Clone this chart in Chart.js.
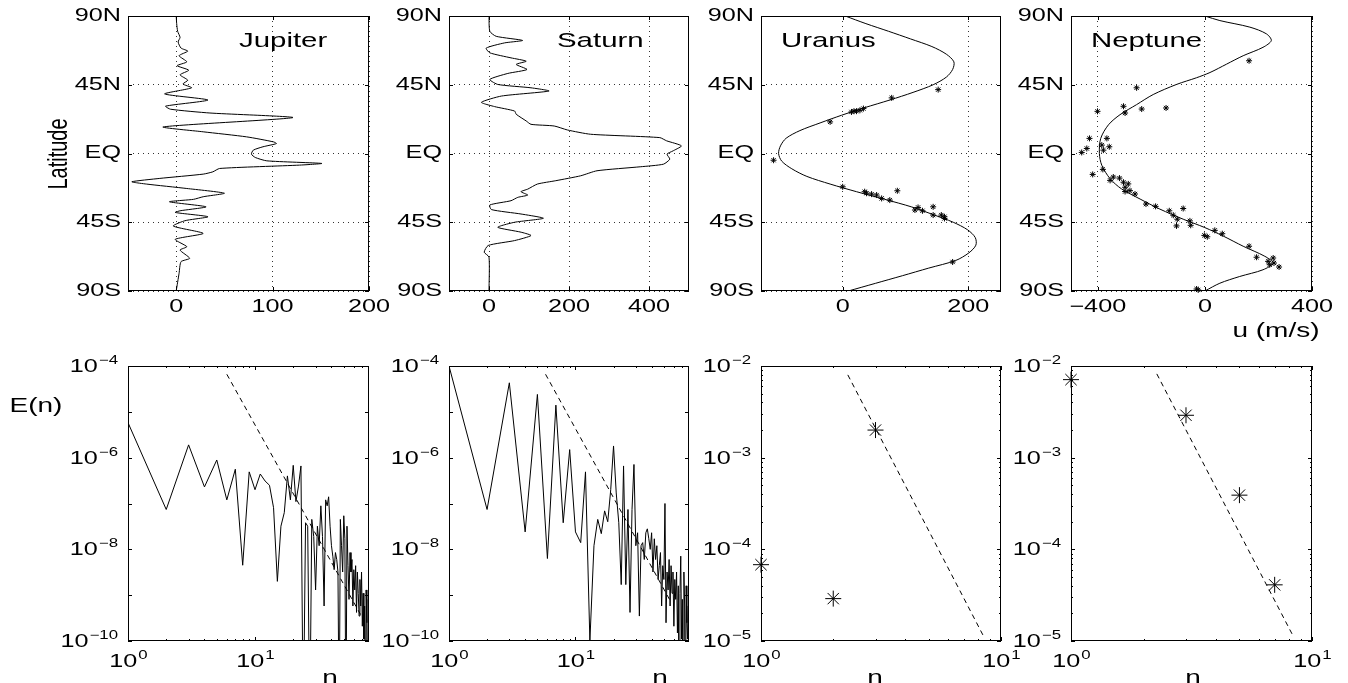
<!DOCTYPE html>
<html lang="en">
<head>
<meta charset="UTF-8">
<title>Zonal winds and energy spectra of the giant planets</title>
<script src="https://cdn.jsdelivr.net/npm/chart.js@4"></script>
<style>
    body { margin: 0; background: #fff; }
    #fig { position: relative; width: 1348px; height: 683px; }
    #fig canvas { position: absolute; left: 0; top: 0; }
</style>
</head>
<body>
<div id="fig">
    <canvas id="c0" width="1348" height="683"></canvas>
    <canvas id="c1" width="1348" height="683"></canvas>
    <canvas id="c2" width="1348" height="683"></canvas>
    <canvas id="c3" width="1348" height="683"></canvas>
    <canvas id="c4" width="1348" height="683"></canvas>
    <canvas id="c5" width="1348" height="683"></canvas>
    <canvas id="c6" width="1348" height="683"></canvas>
    <canvas id="c7" width="1348" height="683"></canvas>
</div>
<script>
// ---- wind profiles: latitude (deg) and zonal wind u (m/s) ----
const jupiterLat = [90, 85, 80, 76, 73, 69, 67, 64, 60, 57.5, 54.5, 51.5, 48, 45.5, 43, 39, 35, 31, 29, 26.5, 23.5, 17.4, 14.2, 10.9, 7.6, 6.5, 4.4, 2.2, -0.4, -2.6, -4.8, -6.5, -7.6, -9.8, -12, -13.5, -16.3, -18.5, -20, -22.9, -26, -28.3, -30, -31.6, -34.9, -37.5, -38.6, -41.4, -44, -47.5, -52.3, -56.2, -61, -63.2, -68.6, -70.8, -78.4, -90];
const jupiterU   = [0, 0.5, 1.5, 4, 2, 5, 12, 3, 11, 1, 13, 4, 12, 7, 16, -12, 33, -11, -6, 35, 121, -13.5, 28, 73, 101, 104, 90, 80, 78, 82, 94, 151, 128, 45, 38, 28, -17, -46, -31, 11, 50, 28, 18, -7, 31, 4, -1, 33, 9, -3, 28, -1, 11, 4, 14, 5, 3, 0];

const saturnLat = [90, 80, 76.7, 74, 72.4, 69, 65.9, 62.6, 60.4, 58.3, 55, 52.4, 48.5, 45.2, 43, 40.9, 37.6, 33.5, 30.7, 27.8, 25.7, 21.3, 19.1, 18, 15.4, 12.6, 10.4, 8.3, 5, 1.7, -0.4, -3.7, -7, -8.7, -11.3, -14.6, -17.8, -20, -23.3, -25, -27.2, -28.7, -30.9, -33.7, -36.7, -39.6, -42.4, -45, -48.3, -51.5, -53.7, -57, -60.2, -64.6, -67.8, -90];
const saturnU   = [0, 2, 18, 84, 39, -7, 2, 55, 93, 68, 95, 47, 2, 22, 105, 150, 31, -19, 14, 64, 68, 93, 105, 163, 196, 254, 427, 444, 481, 460, 445, 452, 436, 378, 270, 229, 167, 121, 97, 80, 97, 72, 55, 2, 6, 80, 136, 64, 22, 80, 105, 64, -2, -12, 0, 0];

const uranusLat = [90, 85, 80, 75, 70, 65, 60, 55, 50, 45, 40, 35, 30, 25, 20, 15, 10, 5, 0, -5, -10, -15, -20, -25, -30, -35, -40, -45, -50, -55, -60, -65, -70, -75, -80, -85, -90];
const uranusU   = [4, 37, 73, 108, 142, 165, 177, 175, 165, 144, 112, 75, 35, -2, -36, -68, -90, -99, -102, -97, -81, -57, -20, 22, 67, 110, 144, 176, 199, 211, 212, 201, 180, 137, 95, 52, 9];
const uranusObsLat = [41.8, 36.4, 29.4, 28.3, 27.7, 27.7, 27.2, 20.7, -4.4, -21.8, -25, -26, -26.6, -27.2, -29.4, -30.5, -24.4, -37, -35.3, -37.5, -34.9, -40.3, -40.3, -41.4, -42.5, -71];
const uranusObsU   = [152, 78, 33, 27.5, 22, 18, 14, -20, -110, 0, 35, 38, 46, 54, 62, 75, 87, 115, 120, 127, 144, 144, 157, 162, 162, 175];

const neptuneLat = [90, 87, 82.7, 78.3, 73.9, 69.5, 64, 58.5, 53, 49.6, 45.2, 38.6, 32, 25.4, 18.8, 9.9, 0, -7.7, -16.5, -23.2, -29.8, -36.4, -43, -48.5, -54, -60.7, -67.3, -71.7, -76.1, -80.5, -84.9, -90];
const neptuneU   = [0, 56, 168, 230, 248, 217, 143, 81, 19, -31, -106, -193, -255, -317, -360, -389, -394, -385, -354, -311, -242, -168, -81, 0, 68, 143, 224, 255, 217, 130, 56, 0];
const neptuneObsLat = [60.7, 43, 30.9, 26.5, 29.1, 29.8, 27.6, 9.9, 9.9, 5.5, 4.4, 3.3, 2.2, 0.7, -10.4, -13.7, -15.4, -16.1, -17.6, -18.8, -19.9, -22.1, -24.3, -26.5, -24.9, -33.1, -34.6, -37.5, -36, -40.4, -43, -47.4, -44.1, -47, -53.6, -54.5, -50.3, -52.5, -60.7, -67.9, -70.6, -68.4, -71.7, -72.8, -74.3, -88.7, -89.3];
const neptuneObsU   = [165, -255, -304, -298, -236, -145, -401, -431, -366, -385, -357, -441, -379, -460, -381, -419, -342, -319, -354, -304, -286, -298, -280, -261, -298, -220, -184, -133, -81, -118, -103, -106, -56, -53, -2, 9, 37, 65, 165, 193, 236, 255, 258, 242, 277, -31, -25];

// ---- energy spectra E(n) ----
const jupiterN = [1, 2, 3, 4, 5, 6, 7, 8, 9, 10, 11, 12, 13, 14, 15, 16, 17, 18, 19, 20, 21, 22, 23, 24, 25, 26, 27, 28, 29, 30, 31, 32, 33, 34, 35, 36, 37, 38, 39, 40, 41, 42, 43, 44, 45, 46, 47, 48, 49, 50, 51, 52, 53, 54, 55, 56, 57, 58, 59, 60, 61, 62, 63, 64, 65, 66, 67, 68, 69, 70, 71, 72, 73, 74, 75, 76, 77, 78, 79];
const jupiterE = [5.8e-6, 7.4e-8, 1.9e-6, 2.3e-7, 8.9e-7, 1.2e-7, 5.6e-7, 4.5e-9, 4.9e-7, 2.0e-7, 4.4e-7, 3.1e-7, 2.5e-7, 8.1e-8, 2.0e-9, 3.2e-8, 6.3e-8, 4.0e-7, 1.2e-7, 6.8e-7, 1.1e-7, 2.4e-7, 6.6e-7, 1e-12, 3.8e-8, 3.2e-8, 1e-12, 4.5e-8, 1.9e-8, 1.3e-9, 3.2e-8, 1.2e-8, 8.9e-8, 1.9e-8, 5.8e-10, 1.2e-7, 8.9e-8, 1.4e-7, 3.2e-8, 1.2e-8, 7.1e-9, 3.6e-9, 8.5e-9, 6.0e-9, 3.2e-9, 1e-12, 4.5e-8, 1.2e-8, 3.2e-9, 5.4e-8, 1.7e-8, 1e-12, 3.2e-8, 4.4e-9, 8.1e-10, 8.5e-9, 3.2e-9, 6.0e-9, 5.8e-10, 3.6e-9, 1.3e-9, 4.4e-9, 4.2e-10, 3.2e-9, 1.1e-9, 3.5e-10, 2.2e-9, 5.8e-10, 3.2e-9, 2.1e-10, 1.1e-9, 1.1e-10, 5.8e-10, 1e-12, 1.3e-9, 2.5e-10, 1e-12, 8.1e-10, 1.1e-10];
const jupiterFitN = [6, 71];
const jupiterFitE = [6.6e-5, 3e-10];

const saturnN = jupiterN;
const saturnE = [1e-4, 7.4e-8, 4.3e-5, 2.4e-8, 2.4e-5, 6.3e-9, 1.4e-5, 3.8e-8, 1.5e-6, 2.4e-8, 1.4e-8, 4.9e-7, 1e-10, 1.2e-8, 4.5e-8, 2.2e-8, 6.9e-8, 4e-8, 2e-7, 1.8e-6, 1.7e-7, 3.8e-8, 1.7e-9, 6.6e-7, 1.7e-9, 7.4e-8, 4.2e-10, 7.4e-8, 7.1e-7, 1.2e-8, 2.3e-8, 3.5e-10, 1.2e-8, 1.4e-8, 6e-9, 2.3e-8, 2.8e-8, 1.7e-8, 1e-8, 2.3e-8, 3.2e-9, 1.7e-8, 6e-9, 1.2e-8, 2.2e-9, 4.4e-9, 8.5e-9, 5.8e-10, 4.4e-9, 2.2e-9, 1e-7, 2.5e-10, 3.2e-9, 1.3e-9, 6e-9, 5.8e-10, 4.4e-9, 1.1e-9, 3.2e-9, 2.1e-10, 2.2e-9, 8.1e-10, 3.2e-9, 1.5e-10, 1.6e-9, 1e-12, 1.1e-9, 7.1e-9, 1.1e-10, 8.1e-10, 1e-12, 3.2e-9, 5.8e-10, 1e-12, 1.6e-9, 2.5e-10, 1.1e-10, 5.8e-10, 1e-12];
const saturnFitN = [5.8, 57];
const saturnFitE = [6.6e-5, 7e-10];

const uranusN = [1, 2, 3];
const uranusE = [6.8e-5, 2.9e-5, 2.0e-3];
const uranusFitN = [2.3, 8.5];
const uranusFitE = [8e-3, 1.1e-5];

const neptuneN = [1, 3, 5, 7];
const neptuneE = [7.1e-3, 2.9e-3, 3.9e-4, 4.1e-5];
const neptuneFitN = [2.27, 8.4];
const neptuneFitE = [8.2e-3, 1.1e-5];

// ---- ticks ----
const latTicks = [-90, -45, 0, 45, 90];
const latTickLabels = ['90S', '45S', 'EQ', '45N', '90N'];
const jupiterUTicks = [0, 100, 200];
const saturnUTicks = [0, 200, 400];
const uranusUTicks = [0, 200];
const neptuneUTicks = [-400, 0, 400];
const specLabelExpGiant = [-4, -6, -8, -10];
const specLabelExpIce = [-2, -3, -4, -5];
const nLabelExp = [0, 1];

const W = 1348, H = 683;
const SX = 1.4; // the original figure is horizontally stretched
const FONT = '"Liberation Sans", Arial, Helvetica, sans-serif';
const topRow = [16, 291], botRow = [366, 641];
const cols = [[128, 369], [449, 689], [761, 1001], [1071, 1312]];

function txt(ctx, s, x, y, size, align, base, rot) {
    ctx.save();
    ctx.font = size + 'px ' + FONT;
    ctx.textAlign = align;
    ctx.textBaseline = base;
    ctx.translate(x, y);
    if (rot) { ctx.rotate(-Math.PI / 2); ctx.scale(1, SX); }
    else ctx.scale(SX, 1);
    ctx.fillText(s, 0, 0);
    ctx.restore();
}

function powLabel(ctx, e, x, y, align) {
    const es = e < 0 ? '\u2212' + (-e) : String(e);
    ctx.font = '18px ' + FONT;
    const w1 = ctx.measureText('10').width * SX;
    ctx.font = '12px ' + FONT;
    const w2 = ctx.measureText(es).width * SX;
    const x0 = align === 'right' ? x - w1 - w2 : x - (w1 + w2) / 2;
    txt(ctx, '10', x0, y, 18, 'left', 'middle');
    txt(ctx, es, x0 + w1 + 1, y - 3, 12, 'left', 'alphabetic');
}

// 2..9 times each decade between lo and hi
function minorTicks(lo, hi) {
    const out = [];
    for (let d = lo; d < hi * 0.999; d *= 10) {
        for (let k = 2; k <= 9; k++) if (d * k < hi) out.push(d * k);
    }
    return out;
}

const matlabAxes = {
    id: 'matlabAxes',
    afterDraw(chart, args, o) {
        const ctx = chart.ctx, a = chart.chartArea;
        const xs = chart.scales.x, ys = chart.scales.y;
        ctx.save();
        ctx.strokeStyle = '#000';
        ctx.fillStyle = '#000';
        ctx.lineWidth = 1;

        // inward tick marks on all four sides
        ctx.beginPath();
        const marks = (vals, len, dir) => vals.forEach(v => {
            if (dir === 'x') {
                const p = Math.round(xs.getPixelForValue(v)) + 0.5;
                ctx.moveTo(p, a.bottom); ctx.lineTo(p, a.bottom - len);
                ctx.moveTo(p, a.top); ctx.lineTo(p, a.top + len);
            } else {
                const p = Math.round(ys.getPixelForValue(v)) + 0.5;
                ctx.moveTo(a.left, p); ctx.lineTo(a.left + len, p);
                ctx.moveTo(a.right, p); ctx.lineTo(a.right - len, p);
            }
        });
        marks(o.xMajor || [], 4, 'x');
        marks(o.xMinor || [], 2, 'x');
        marks(o.yMajor || [], 4, 'y');
        marks(o.yMinor || [], 2, 'y');
        ctx.stroke();

        ctx.strokeRect(a.left + 0.5, a.top + 0.5, a.right - a.left - 1, a.bottom - a.top - 1);

        if (o.kind === 'lat') {
            latTicks.forEach((v, i) => txt(ctx, latTickLabels[i], a.left - 7, ys.getPixelForValue(v), 18, 'right', 'middle'));
            o.xLabels.forEach(v => txt(ctx, v < 0 ? '\u2212' + (-v) : String(v), xs.getPixelForValue(v), a.bottom + 16, 18, 'center', 'middle'));
        } else {
            o.yExp.forEach(e => powLabel(ctx, e, a.left - 11, ys.getPixelForValue(Math.pow(10, e)) + 1, 'right'));
            nLabelExp.forEach(e => powLabel(ctx, e, xs.getPixelForValue(Math.pow(10, e)), a.bottom + 21, 'center'));
        }
        (o.texts || []).forEach(t => txt(ctx, t.s, t.x, t.y, t.size, t.align, 'alphabetic', t.rot));
        ctx.restore();
    }
};

function axis(c, dir) {
    return {
        type: c.log ? 'logarithmic' : 'linear',
        min: c.min,
        max: c.max,
        ticks: { display: false },
        border: { display: false, dash: [1, 4] },
        grid: { display: !!c.grid, color: '#333', lineWidth: 1, drawTicks: false },
        afterBuildTicks: s => { if (c.ticks) s.ticks = c.ticks.map(v => ({ value: v })); },
        afterFit: s => { if (dir === 'x') s.height = 0; else s.width = 0; }
    };
}

function panel(id, col, row, xCfg, yCfg, datasets, deco) {
    return new Chart(document.getElementById(id), {
        type: 'scatter',
        data: { datasets: datasets },
        options: {
            responsive: false,
            animation: false,
            events: [],
            layout: { padding: { left: col[0], right: W - col[1], top: row[0], bottom: H - row[1] } },
            scales: { x: axis(xCfg, 'x'), y: axis(yCfg, 'y') },
            plugins: { legend: { display: false }, tooltip: { enabled: false }, matlabAxes: deco }
        },
        plugins: [matlabAxes]
    });
}

const pts = (xs, ys) => xs.map((x, i) => ({ x: x, y: ys[i] }));
const profile = (lat, u, tension) => ({ data: pts(u, lat), showLine: true, borderColor: '#000', borderWidth: 1, pointRadius: 0, tension: tension });
const stars = (x, y, r) => ({ data: pts(x, y), showLine: false, pointStyle: 'star', pointRadius: r, borderColor: '#000', backgroundColor: '#000', borderWidth: 1, clip: false });
const spec = (n, e) => ({ data: pts(n, e), showLine: true, borderColor: '#000', borderWidth: 1, pointRadius: 0, tension: 0 });
const fit = (n, e) => ({ data: pts(n, e), showLine: true, borderColor: '#000', borderWidth: 1, borderDash: [5, 4], pointRadius: 0 });

const latAxis = { min: -90, max: 90, ticks: latTicks, grid: true };

// top row: wind profiles
panel('c0', cols[0], topRow, { min: -50, max: 200, ticks: jupiterUTicks, grid: true }, latAxis,
    [profile(jupiterLat, jupiterU, 0.2)],
    { kind: 'lat', xLabels: jupiterUTicks, yMajor: latTicks, xMajor: jupiterUTicks,
      texts: [{ s: 'Jupiter', x: 239, y: 47, size: 21, align: 'left' },
              { s: 'Latitude', x: 67, y: 154, size: 20, align: 'center', rot: true }] });
panel('c1', cols[1], topRow, { min: -100, max: 500, ticks: saturnUTicks, grid: true }, latAxis,
    [profile(saturnLat, saturnU, 0.2)],
    { kind: 'lat', xLabels: saturnUTicks, yMajor: latTicks, xMajor: saturnUTicks,
      texts: [{ s: 'Saturn', x: 557, y: 47, size: 21, align: 'left' }] });
panel('c2', cols[2], topRow, { min: -130, max: 252, ticks: uranusUTicks, grid: true }, latAxis,
    [profile(uranusLat, uranusU, 0.3), stars(uranusObsU, uranusObsLat, 3)],
    { kind: 'lat', xLabels: uranusUTicks, yMajor: latTicks, xMajor: uranusUTicks,
      texts: [{ s: 'Uranus', x: 781, y: 47, size: 21, align: 'left' }] });
panel('c3', cols[3], topRow, { min: -500, max: 400, ticks: neptuneUTicks, grid: true }, latAxis,
    [profile(neptuneLat, neptuneU, 0.3), stars(neptuneObsU, neptuneObsLat, 3)],
    { kind: 'lat', xLabels: neptuneUTicks, yMajor: latTicks, xMajor: neptuneUTicks,
      texts: [{ s: 'Neptune', x: 1091, y: 47, size: 21, align: 'left' },
              { s: 'u (m/s)', x: 1276, y: 337, size: 20, align: 'center' }] });

// bottom row: spectra
const giantY = { log: true, min: 1e-10, max: 1e-4 };
const iceY = { log: true, min: 1e-5, max: 1e-2 };
const giantX = { log: true, min: 1, max: 79 };
const iceX = { log: true, min: 1, max: 10 };
const giantDeco = (texts) => ({ kind: 'spec', yExp: specLabelExpGiant,
    xMajor: [1, 10], xMinor: minorTicks(1, 79),
    yMajor: [1e-10, 1e-9, 1e-8, 1e-7, 1e-6, 1e-5, 1e-4], texts: texts });
const iceDeco = (texts) => ({ kind: 'spec', yExp: specLabelExpIce,
    xMajor: [1, 10], xMinor: minorTicks(1, 10),
    yMajor: [1e-5, 1e-4, 1e-3, 1e-2], yMinor: minorTicks(1e-5, 1e-2), texts: texts });

panel('c4', cols[0], botRow, giantX, giantY,
    [spec(jupiterN, jupiterE), fit(jupiterFitN, jupiterFitE)],
    giantDeco([{ s: 'E(n)', x: 36, y: 412, size: 20, align: 'center' },
               { s: 'n', x: 330, y: 684, size: 20, align: 'center' }]));
panel('c5', cols[1], botRow, giantX, giantY,
    [spec(saturnN, saturnE), fit(saturnFitN, saturnFitE)],
    giantDeco([{ s: 'n', x: 660, y: 684, size: 20, align: 'center' }]));
panel('c6', cols[2], botRow, iceX, iceY,
    [stars(uranusN, uranusE, 8), fit(uranusFitN, uranusFitE)],
    iceDeco([{ s: 'n', x: 875, y: 684, size: 20, align: 'center' }]));
panel('c7', cols[3], botRow, iceX, iceY,
    [stars(neptuneN, neptuneE, 8), fit(neptuneFitN, neptuneFitE)],
    iceDeco([{ s: 'n', x: 1193, y: 684, size: 20, align: 'center' }]));
</script>
</body>
</html>
